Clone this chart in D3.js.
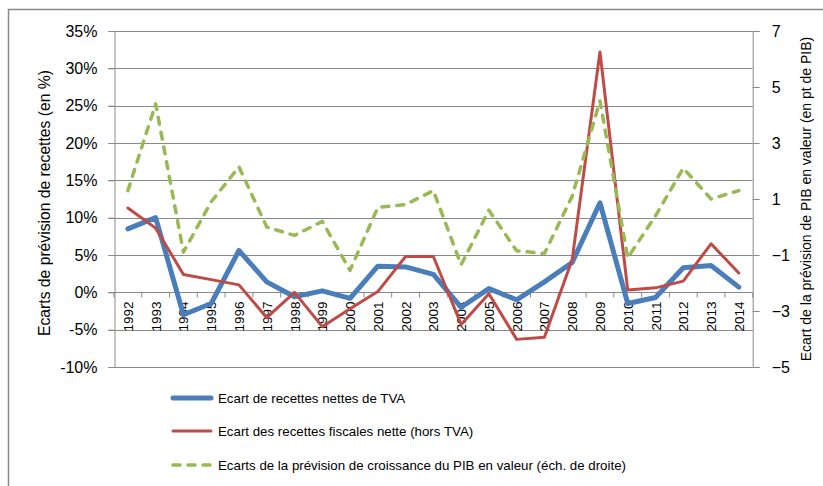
<!DOCTYPE html>
<html lang="fr">
<head>
<meta charset="utf-8">
<title>Ecarts de prévision</title>
<script src="https://cdn.jsdelivr.net/npm/d3@7"></script>
<style>
  body { margin: 0; background: #fff; }
  text { font-family: "Liberation Sans", Arial, sans-serif; fill: #000; }
</style>
</head>
<body>
<svg id="chart"></svg>
<script>
var years = ["1992","1993","1994","1995","1996","1997","1998","1999","2000","2001","2002",
             "2003","2004","2005","2006","2007","2008","2009","2010","2011","2012","2013","2014"];
// ecart de recettes nettes de TVA (en %)
var tva = [8.5, 10.0, -3.0, -1.5, 5.6, 1.4, -0.6, 0.2, -0.8, 3.5, 3.4, 2.4, -2.0, 0.5, -1.0,
           1.4, 4.0, 12.0, -1.5, -0.7, 3.3, 3.6, 0.7];
// ecart des recettes fiscales nettes hors TVA (en %)
var fiscal = [11.3, 8.6, 2.4, 1.7, 1.0, -3.4, 0.0, -4.6, -2.2, 0.1, 4.8, 4.8, -4.3, -0.2, -6.3,
              -6.0, 4.4, 32.2, 0.3, 0.6, 1.5, 6.5, 2.6];
// ecart de prevision de croissance du PIB en valeur (ech. de droite)
var pib = [1.3, 4.4, -0.9, 0.9, 2.15, 0.0, -0.3, 0.2, -1.55, 0.7, 0.8, 1.3, -1.35, 0.6, -0.85,
           -0.95, 1.1, 4.5, -1.1, 0.4, 2.1, 1.0, 1.3];

var leftTicks = [-10, -5, 0, 5, 10, 15, 20, 25, 30, 35];
var rightTicks = [-5, -3, -1, 1, 3, 5, 7];
var legendNames = ["Ecart de recettes nettes de TVA",
                   "Ecart des recettes fiscales nette (hors TVA)",
                   "Ecarts de la prévision de croissance du PIB en valeur (éch. de droite)"];

var width = 823, height = 486;
var svg = d3.select("#chart").attr("width", width).attr("height", height);

var gridColor = "#898989";

// outer frame
svg.append("rect")
  .attr("x", 8.5).attr("y", 9.5)
  .attr("width", 900).attr("height", 600)
  .attr("fill", "none").attr("stroke", gridColor).attr("stroke-width", 1.5);

var x = d3.scaleBand().domain(years).range([114, 752.7]).padding(0);
var yL = d3.scaleLinear().domain([-10, 35]).range([367, 31]);
var yR = d3.scaleLinear().domain([-5, 7]).range([367, 31]);

// gridlines
svg.append("g")
  .selectAll("line").data(leftTicks).enter().append("line")
  .attr("x1", 108).attr("x2", 752.7)
  .attr("y1", d => Math.round(yL(d)) + 0.5).attr("y2", d => Math.round(yL(d)) + 0.5)
  .attr("stroke", gridColor).attr("stroke-width", 1);

// left axis
var leftAxis = svg.append("g").attr("transform", "translate(114.5,0)")
  .call(d3.axisLeft(yL).tickValues(leftTicks).tickSize(6).tickPadding(11)
    .tickFormat(d => d + "%"));
leftAxis.select(".domain").attr("stroke", gridColor);
leftAxis.selectAll(".tick line").attr("stroke", gridColor);
leftAxis.selectAll("text").style("font-size", "16px").attr("fill", "#000");

// right axis
var rightAxis = svg.append("g").attr("transform", "translate(752.7,0)")
  .call(d3.axisRight(yR).tickValues(rightTicks).tickSize(7).tickPadding(12));
rightAxis.select(".domain").attr("stroke", gridColor);
rightAxis.selectAll(".tick line").attr("stroke", gridColor);
rightAxis.selectAll("text").style("font-size", "16px").attr("fill", "#000");

// category axis at 0%
var y0 = Math.round(yL(0)) + 0.5;
svg.append("g")
  .selectAll("line").data(years.concat(["end"])).enter().append("line")
  .attr("x1", (d, i) => 114 + i * x.bandwidth()).attr("x2", (d, i) => 114 + i * x.bandwidth())
  .attr("y1", y0).attr("y2", y0 + 5)
  .attr("stroke", gridColor);

svg.append("g")
  .selectAll("text").data(years).enter().append("text")
  .attr("transform", d => "translate(" + (x(d) + x.bandwidth() / 2 + 5) + "," + (y0 + 9) + ") rotate(-90)")
  .attr("text-anchor", "end")
  .style("font-size", "13.5px")
  .text(d => d);

// series
function cx(i) { return x(years[i]) + x.bandwidth() / 2; }

svg.append("path")
  .datum(tva)
  .attr("d", d3.line().x((d, i) => cx(i)).y(d => yL(d)))
  .attr("fill", "none").attr("stroke", "#4A7EBB").attr("stroke-width", 5)
  .attr("stroke-linejoin", "round").attr("stroke-linecap", "round");

svg.append("path")
  .datum(fiscal)
  .attr("d", d3.line().x((d, i) => cx(i)).y(d => yL(d)))
  .attr("fill", "none").attr("stroke", "#BE4B48").attr("stroke-width", 3)
  .attr("stroke-linejoin", "round").attr("stroke-linecap", "round");

svg.append("path")
  .datum(pib)
  .attr("d", d3.line().x((d, i) => cx(i)).y(d => yR(d)))
  .attr("fill", "none").attr("stroke", "#98B954").attr("stroke-width", 3.5)
  .attr("stroke-dasharray", "7,8")
  .attr("stroke-linejoin", "round").attr("stroke-linecap", "round");

// axis titles
svg.append("text")
  .attr("transform", "translate(50,203) rotate(-90)")
  .attr("text-anchor", "middle")
  .style("font-size", "15.7px")
  .text("Ecarts de prévision de recettes (en %)");

svg.append("text")
  .attr("transform", "translate(811,199) rotate(-90)")
  .attr("text-anchor", "middle")
  .style("font-size", "14px")
  .text("Ecart de la prévision de PIB en valeur (en pt de PIB)");

// legend
var legendStyles = [
  { color: "#4A7EBB", w: 5, dash: null },
  { color: "#BE4B48", w: 3, dash: null },
  { color: "#98B954", w: 3.5, dash: "7,8" }
];
var legendY = [398, 431, 465];
var lg = svg.append("g").selectAll("g").data(legendNames).enter().append("g")
  .attr("transform", (d, i) => "translate(0," + legendY[i] + ")");
lg.append("line")
  .attr("x1", 173).attr("x2", 211)
  .attr("stroke", (d, i) => legendStyles[i].color)
  .attr("stroke-width", (d, i) => legendStyles[i].w)
  .attr("stroke-dasharray", (d, i) => legendStyles[i].dash)
  .attr("stroke-linecap", "round");
lg.append("text")
  .attr("x", 218).attr("dy", "0.35em")
  .style("font-size", "13.3px")
  .text(d => d);
</script>
</body>
</html>
